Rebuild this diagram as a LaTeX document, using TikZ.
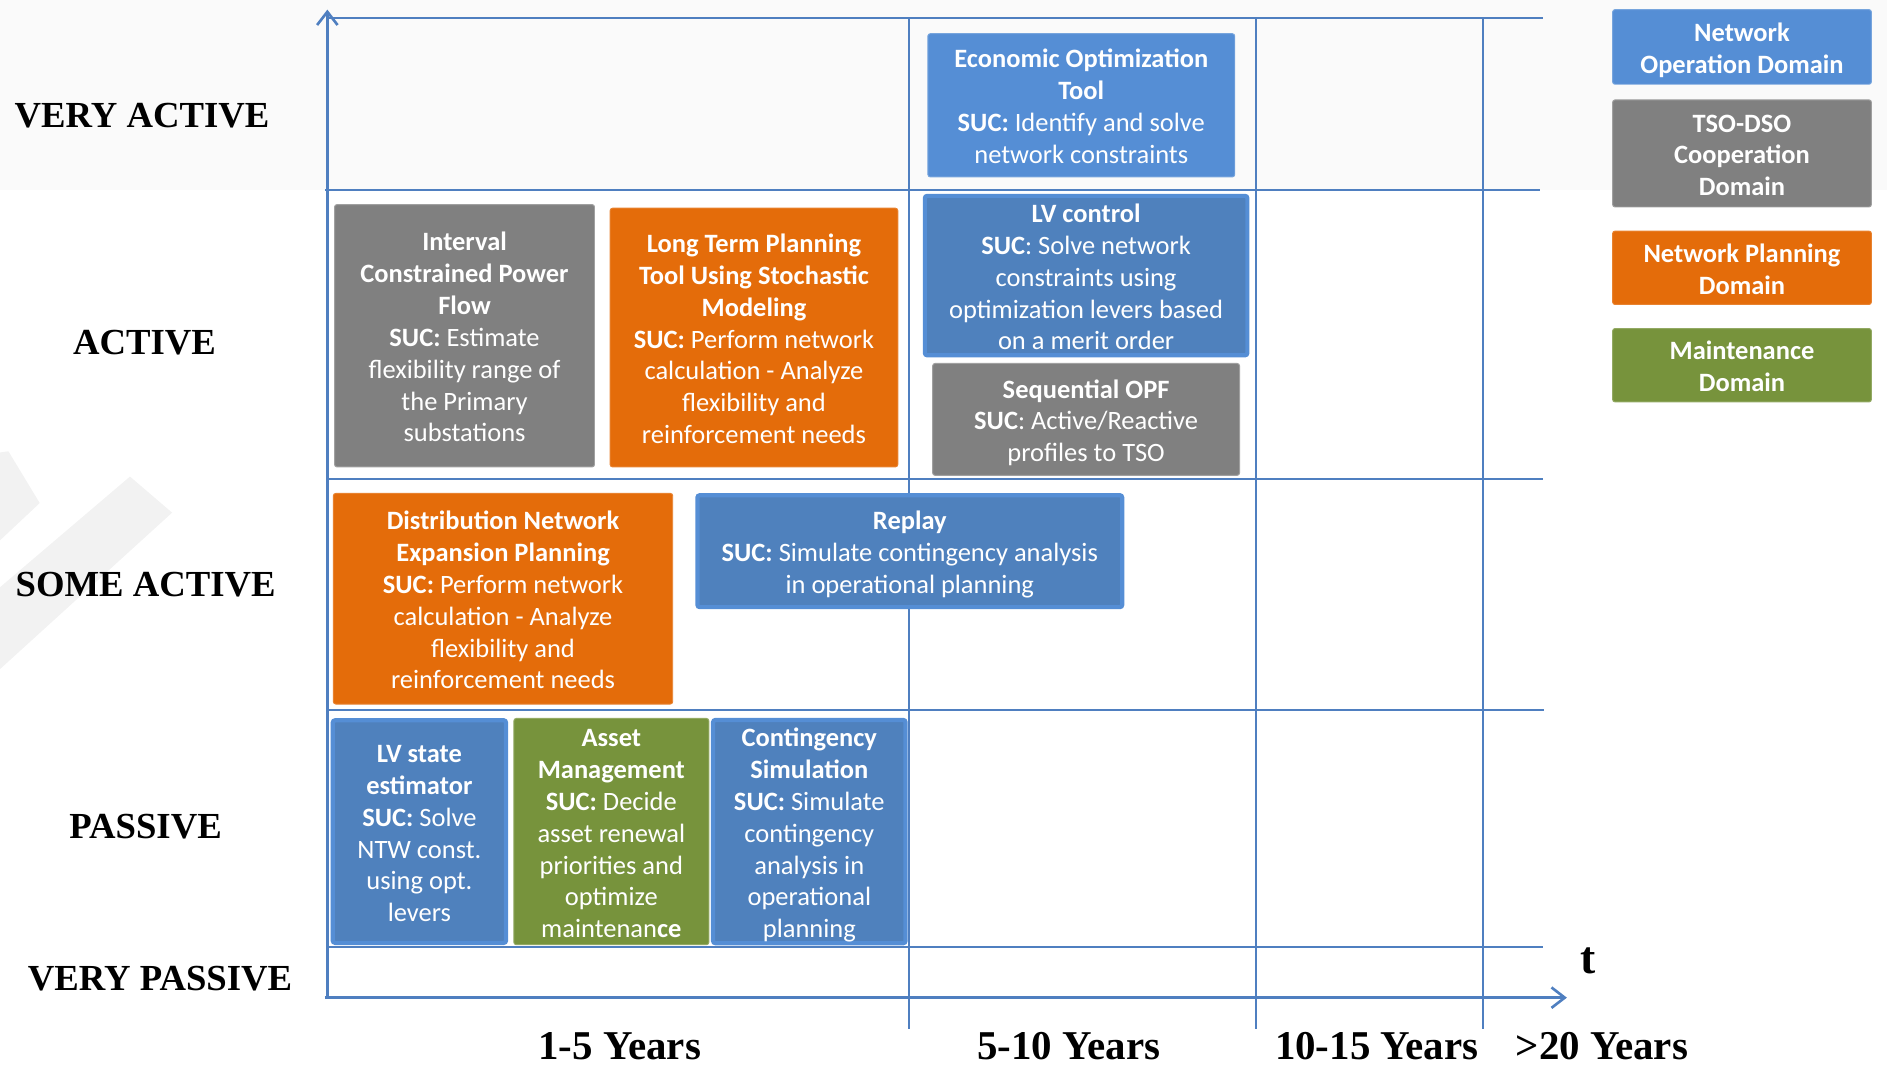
\documentclass[tikz,border=0pt]{standalone}
\usepackage{fontspec}
\setmainfont{Carlito}
\newfontfamily\tnr{Liberation Serif}
\usetikzlibrary{arrows.meta}
\definecolor{opblue}{HTML}{558ED5}
\definecolor{darkblue}{HTML}{4F81BD}
\definecolor{tsogray}{HTML}{808080}
\definecolor{planorange}{HTML}{E46C0A}
\definecolor{maintgreen}{HTML}{77933C}
\definecolor{gridblue}{HTML}{4F7FC0}
\definecolor{bandgray}{HTML}{FAFAFA}
\definecolor{wmgray}{HTML}{F2F2F2}
\newcommand\tstr{\rule{0pt}{22pt}}
\newcommand\bstr{\rule[-4.5pt]{0pt}{4.5pt}}
\begin{document}
\begin{tikzpicture}[x=1pt,y=-1pt,
  box/.style={rounded corners=2pt, inner sep=0pt, align=center, text=white,
    font=\fontsize{22}{26.5}\selectfont},
  opbox/.style={box, fill=opblue, draw=opblue!80!white, line width=0.8pt},
  opdark/.style={box, fill=darkblue, draw=opblue, line width=3.5pt},
  tsobox/.style={box, fill=tsogray, draw=tsogray!75!white, line width=0.8pt},
  planbox/.style={box, fill=planorange, draw=planorange!85!white, line width=0.8pt},
  maintbox/.style={box, fill=maintgreen, draw=maintgreen!80!white, line width=0.8pt},
  legend/.style={font=\fontsize{22}{26.5}\selectfont\bfseries},
  gridline/.style={draw=gridblue, line width=1.6pt},
  axisline/.style={draw=gridblue, line width=2.2pt},
  axistip/.style={-{Straight Barb[length=11pt,width=17pt,line width=2.2pt]}},
  rowlabel/.style={font=\tnr\bfseries\fontsize{30.5}{34}\selectfont, inner sep=0pt},
  collabel/.style={font=\tnr\bfseries\fontsize{34}{38}\selectfont, inner sep=0pt, anchor=base}
]
\useasboundingbox (0,0) rectangle (1568,888);
% background band and watermark
\fill[bandgray] (0,0) rectangle (1568,158);
\fill[wmgray] (0,376) -- (7,375) -- (33,418) -- (0,449) -- cycle;
\fill[wmgray] (0,488) -- (108,396) -- (143,426) -- (0,556) -- cycle;

% grid
\coordinate (o) at (272,829);
\draw[gridline] (272,15) -- (1282,15);
\draw[gridline] (270,158) -- (1280,158);
\draw[gridline] (272,398) -- (1282,398);
\draw[gridline] (272,590) -- (1283,590);
\draw[gridline] (272,787) -- (1282,787);
\draw[gridline] (755,15) -- (755,855);
\draw[gridline] (1044,15) -- (1044,855);
\draw[gridline] (1232,15) -- (1232,855);
\coordinate (ytip) at (272,8);
\coordinate (xtip) at (1302,829);
\draw[axisline, axistip] (o) -- (ytip);
\draw[axisline, axistip] (270,829) -- (xtip);

% boxes
\node[opbox, minimum width=255pt, minimum height=119pt] (econ) at (898.5,87.5)
  {\tstr\textbf{Economic Optimization}\\\textbf{Tool}\\\textbf{SUC:} Identify and solve\\network constraints\bstr};
\node[opdark, minimum width=268pt, minimum height=129pt] (lvc) at (902.5,229)
  {\tstr\textbf{LV control}\\\textbf{SUC}: Solve network\\constraints using\\optimization levers based\\on a merit order\bstr};
\node[tsobox, minimum width=255pt, minimum height=93pt] (seq) at (902.5,348.5)
  {\tstr\textbf{Sequential OPF}\\\textbf{SUC}: Active/Reactive\\profiles to TSO\bstr};
\node[tsobox, minimum width=216pt, minimum height=218pt] (icpf) at (386,279)
  {\tstr\textbf{Interval}\\\textbf{Constrained Power}\\\textbf{Flow}\\\textbf{SUC:} Estimate\\flexibility range of\\the Primary\\substations\bstr};
\node[planbox, minimum width=239pt, minimum height=215pt] (ltp) at (626.5,280.5)
  {\tstr\textbf{Long Term Planning}\\\textbf{Tool Using Stochastic}\\\textbf{Modeling}\\\textbf{SUC:} Perform network\\calculation - Analyze\\flexibility and\\reinforcement needs\bstr};
\node[planbox, minimum width=282pt, minimum height=175pt] (dnep) at (418,497.5)
  {\tstr\textbf{Distribution Network}\\\textbf{Expansion Planning}\\\textbf{SUC:} Perform network\\calculation - Analyze\\flexibility and\\reinforcement needs\bstr};
\node[opdark, minimum width=353pt, minimum height=93pt] (replay) at (756,458)
  {\tstr\textbf{Replay}\\\textbf{SUC:} Simulate contingency analysis\\in operational planning\bstr};
\node[opdark, minimum width=144pt, minimum height=185pt] (lvse) at (348.5,691)
  {\tstr\textbf{LV state}\\\textbf{estimator}\\\textbf{SUC:} Solve\\NTW const.\\using opt.\\levers\bstr};
\node[maintbox, minimum width=162pt, minimum height=188pt] (asset) at (508,691)
  {\tstr\textbf{Asset}\\\textbf{Management}\\\textbf{SUC:} Decide\\asset renewal\\priorities and\\optimize\\maintenan\textbf{ce}\bstr};
\node[opdark, minimum width=160pt, minimum height=185pt] (cont) at (672.5,691)
  {\tstr\textbf{Contingency}\\\textbf{Simulation}\\\textbf{SUC:} Simulate\\contingency\\analysis in\\operational\\planning\bstr};

% legend
\node[opbox, legend, minimum width=215pt, minimum height=62pt] (lgop) at (1447.5,39)
  {\tstr Network\\Operation Domain\bstr};
\node[tsobox, legend, minimum width=215pt, minimum height=89pt] (lgtso) at (1447.5,127.5)
  {\tstr TSO-DSO\\Cooperation\\Domain\bstr};
\node[planbox, legend, minimum width=215pt, minimum height=61pt] (lgplan) at (1447.5,222.5)
  {\tstr Network Planning\\Domain\bstr};
\node[maintbox, legend, minimum width=215pt, minimum height=61pt] (lgmaint) at (1447.5,303.5)
  {\tstr Maintenance\\Domain\bstr};

% row labels
\node[rowlabel] (r1) at (118,96) {VERY ACTIVE};
\node[rowlabel] (r2) at (120,285) {ACTIVE};
\node[rowlabel] (r3) at (121,486) {SOME ACTIVE};
\node[rowlabel] (r4) at (121,687) {PASSIVE};
\node[rowlabel] (r5) at (133,813) {VERY PASSIVE};

% column labels
\node[collabel] (c1) at (515,880) {1-5 Years};
\node[collabel] (c2) at (888,880) {5-10 Years};
\node[collabel] (c3) at (1144,880) {10-15 Years};
\node[collabel] (c4) at (1331,880) {>20 Years};
\node[font=\tnr\bfseries\fontsize{38}{40}\selectfont, inner sep=0pt] (tlab) at (1320,798) {t};
\end{tikzpicture}
\end{document}
